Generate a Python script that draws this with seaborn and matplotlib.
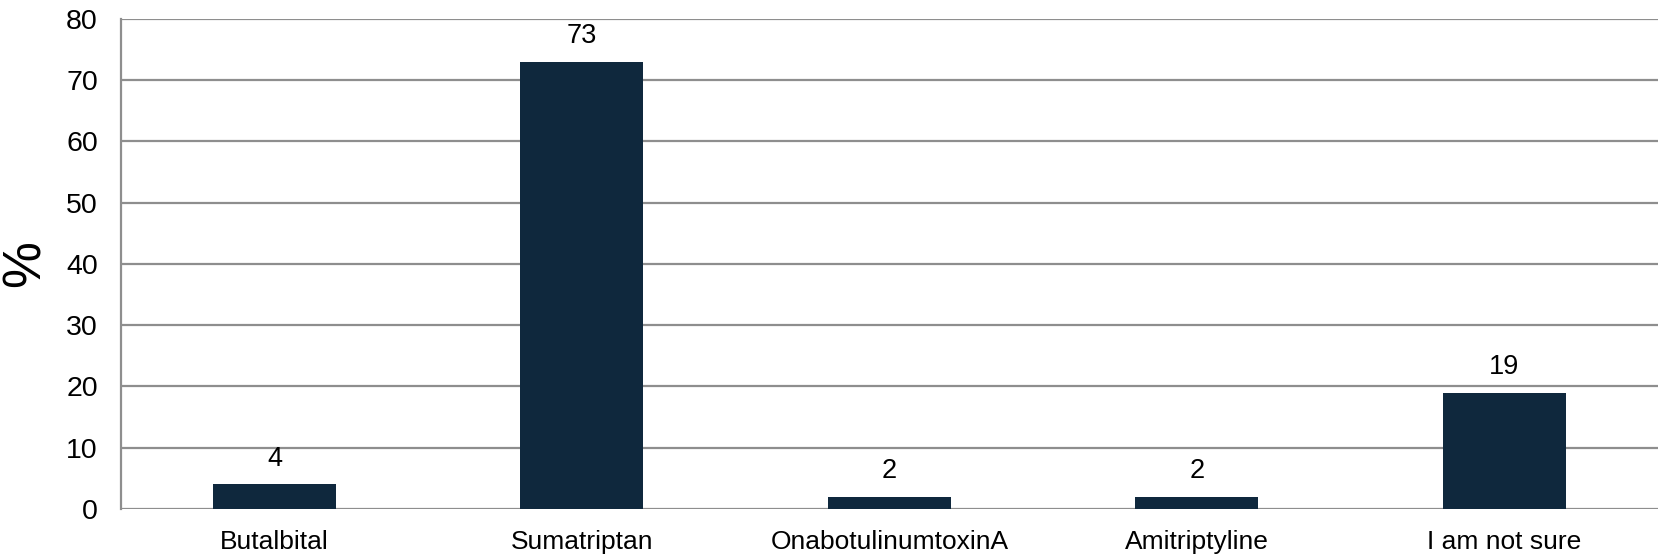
import matplotlib
matplotlib.use("Agg")
import matplotlib.pyplot as plt
import seaborn as sns
import pandas as pd

categories = ["Butalbital", "Sumatriptan", "OnabotulinumtoxinA", "Amitriptyline", "I am not sure"]
percent = [4, 73, 2, 2, 19]
y_ticks = [0, 10, 20, 30, 40, 50, 60, 70, 80]

sns.set_theme(style="white")
plt.rcParams["font.family"] = ["Liberation Sans", "DejaVu Sans"]

df = pd.DataFrame({"category": categories, "percent": percent})

fig = plt.figure(figsize=(16.6, 5.55), dpi=100)
ax = fig.add_axes([0.0727, 0.0829, 0.9261, 0.8829])

bar_color = "#0f283d"
grid_color = "#8e8e8e"

sns.barplot(data=df, x="category", y="percent", color=bar_color, width=0.4,
            saturation=1, ax=ax, zorder=3, linewidth=0)

ax.set_ylim(0, 80)
ax.set_yticks(y_ticks)
ax.set_yticklabels([str(t) for t in y_ticks])
ax.yaxis.grid(True, color=grid_color, linewidth=1.6, zorder=0)
ax.set_axisbelow(True)

for side in ["top", "right", "bottom"]:
    ax.spines[side].set_visible(False)
ax.spines["left"].set_color(grid_color)
ax.spines["left"].set_linewidth(1.6)

ax.tick_params(axis="both", length=0, labelcolor="black")
ax.tick_params(axis="y", pad=16.5, labelsize=20.5)
ax.tick_params(axis="x", pad=15, labelsize=19)

ax.set_xlabel("")
ax.set_ylabel("%", fontsize=38, labelpad=11, color="black")

for container in ax.containers:
    ax.bar_label(container, labels=[str(v) for v in percent], padding=9,
                 fontsize=19.5, color="black")

fig.savefig("out.png", dpi=100)
